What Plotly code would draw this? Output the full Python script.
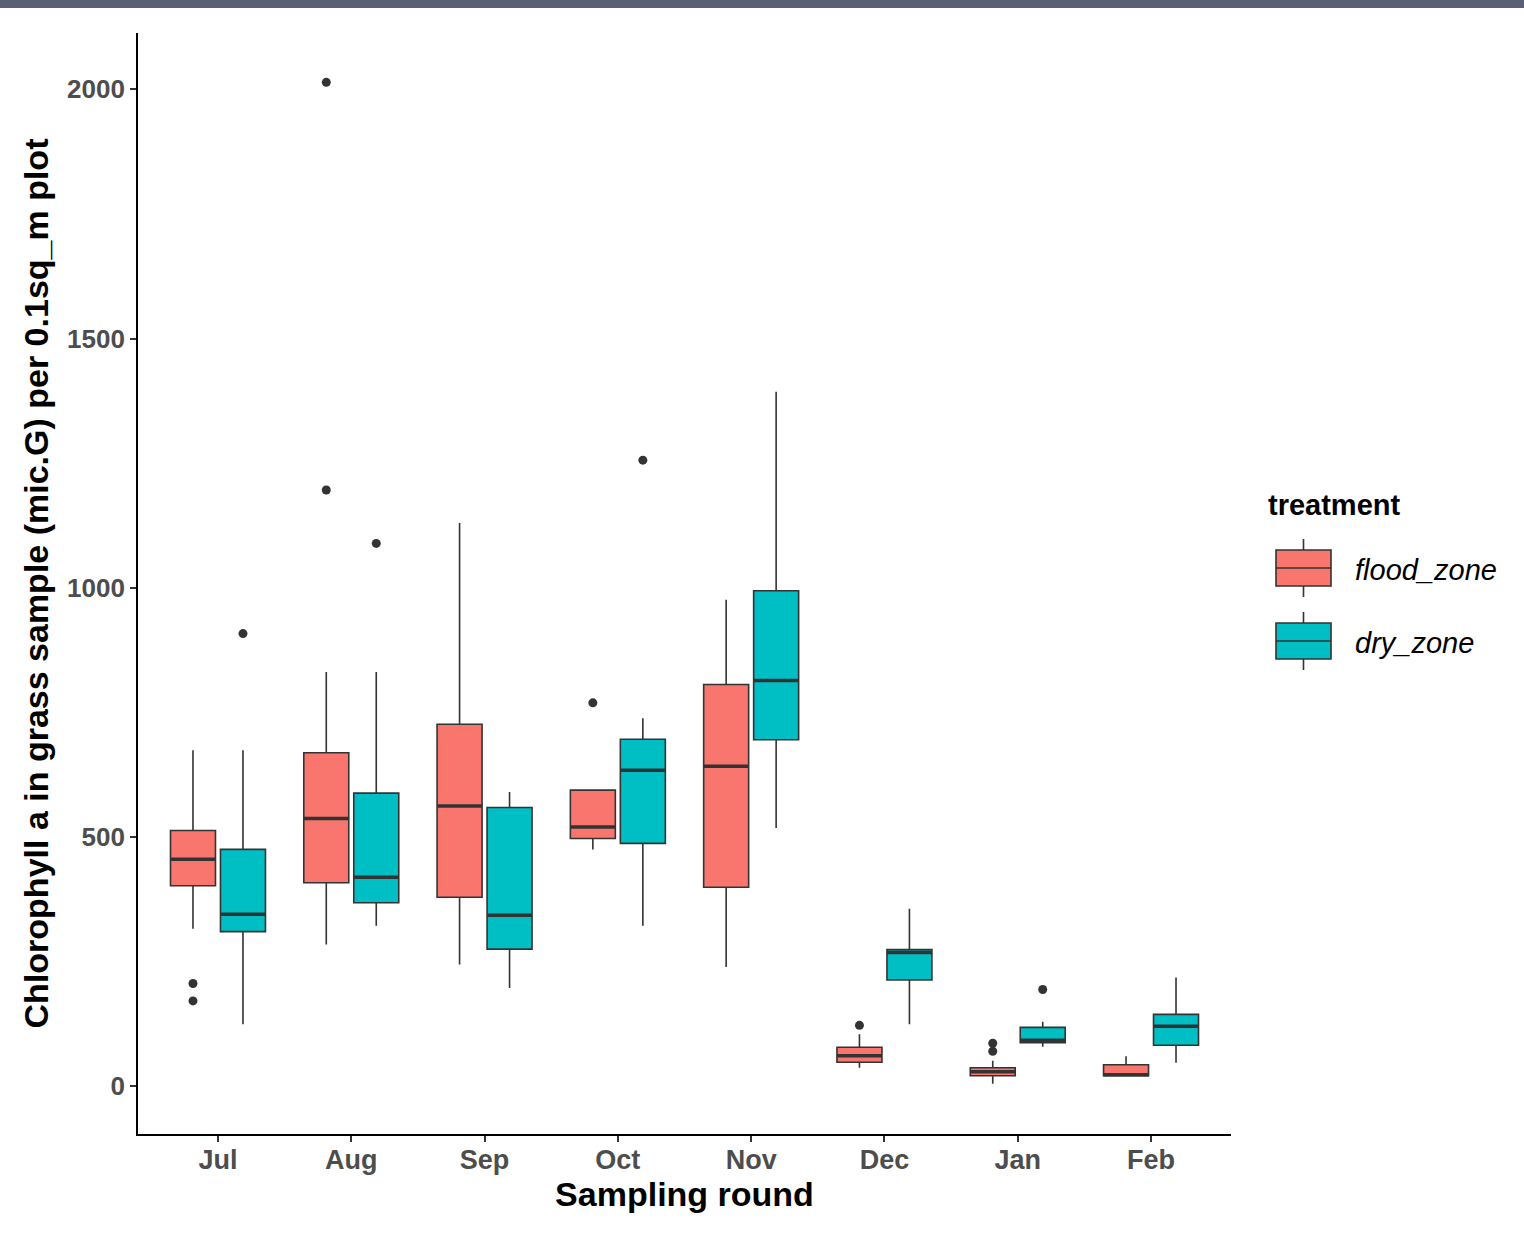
import plotly.graph_objects as go

# Chlorophyll a per sampling round
months = ["Jul", "Aug", "Sep", "Oct", "Nov", "Dec", "Jan", "Feb"]

# flood_zone box stats
flood_q1 = [402, 408, 379, 497, 399, 48, 21, 21]
flood_median = [455, 537, 562, 520, 642, 61, 29, 23]
flood_q3 = [513, 669, 726, 594, 806, 78, 37, 43]
flood_low = [316, 284, 244, 475, 239, 37, 5, 21]
flood_high = [674, 831, 1130, 594, 976, 104, 51, 60]
flood_outliers = [[206, 171], [2014, 1196], [], [769], [], [122], [86, 70], []]

# dry_zone box stats
dry_q1 = [310, 368, 275, 487, 695, 213, 87, 82]
dry_median = [345, 419, 343, 634, 814, 268, 92, 120]
dry_q3 = [475, 588, 559, 696, 994, 274, 118, 144]
dry_low = [124, 322, 197, 322, 518, 124, 79, 47]
dry_high = [674, 831, 590, 738, 1393, 356, 129, 218]
dry_outliers = [[908], [1089], [], [1256], [], [], [194], []]

FLOOD_COL = "#F8766D"
DRY_COL = "#00BFC4"
EDGE = "#333333"
FONT = "Liberation Sans, Arial, sans-serif"

DODGE = 0.1875   # half of ggplot's 0.75 dodge width
BOX_W = 0.3375   # box width after dodge2 padding

# plot area in pixels (for the hand-drawn legend + top strip)
L, R, T, B = 138, 1231, 33, 1134


def px(x):
    return (x - L) / (R - L)


def py(y):
    return (B - y) / (B - T)


fig = go.Figure()

groups = [
    ("flood_zone", FLOOD_COL, -DODGE, flood_q1, flood_median, flood_q3, flood_low, flood_high, flood_outliers),
    ("dry_zone", DRY_COL, DODGE, dry_q1, dry_median, dry_q3, dry_low, dry_high, dry_outliers),
]

for name, col, off, q1, med, q3, lo, hi, outs in groups:
    xs = [i + 1 + off for i in range(len(months))]
    fig.add_trace(go.Box(
        x=xs, q1=q1, median=med, q3=q3, lowerfence=lo, upperfence=hi,
        width=BOX_W, whiskerwidth=0, fillcolor=col,
        line=dict(color=EDGE, width=1.6), name=name, showlegend=False,
        boxpoints=False,
    ))
    # thicker median bars, like ggplot
    mx, my = [], []
    for x, m in zip(xs, med):
        mx += [x - BOX_W / 2, x + BOX_W / 2, None]
        my += [m, m, None]
    fig.add_trace(go.Scatter(x=mx, y=my, mode="lines",
                             line=dict(color=EDGE, width=3.5),
                             showlegend=False, hoverinfo="skip"))
    ox, oy = [], []
    for x, vals in zip(xs, outs):
        for v in vals:
            ox.append(x)
            oy.append(v)
    fig.add_trace(go.Scatter(x=ox, y=oy, mode="markers",
                             marker=dict(color=EDGE, size=9),
                             showlegend=False, name=name))

# dark strip across the top of the image
fig.add_shape(type="rect", xref="paper", yref="paper",
              x0=px(0), x1=px(1524), y0=py(8), y1=py(0),
              fillcolor="#5B5F75", line_width=0, layer="above")

# legend drawn by hand so the keys look like ggplot's
fig.add_annotation(xref="paper", yref="paper", x=px(1266), y=py(505),
                   text="treatment", showarrow=False, xanchor="left", yanchor="middle",
                   font=dict(family=FONT, size=29, color="black", weight="bold"))
keys = [("flood_zone", FLOOD_COL, 568), ("dry_zone", DRY_COL, 641)]
for label, col, cy in keys:
    fig.add_shape(type="line", xref="paper", yref="paper",
                  x0=px(1303.5), x1=px(1303.5), y0=py(cy - 29), y1=py(cy + 29),
                  line=dict(color=EDGE, width=1.6))
    fig.add_shape(type="rect", xref="paper", yref="paper",
                  x0=px(1276), x1=px(1331), y0=py(cy - 18), y1=py(cy + 18),
                  fillcolor=col, line=dict(color=EDGE, width=1.6))
    fig.add_shape(type="line", xref="paper", yref="paper",
                  x0=px(1276), x1=px(1331), y0=py(cy), y1=py(cy),
                  line=dict(color=EDGE, width=1.6))
    fig.add_annotation(xref="paper", yref="paper", x=px(1353), y=py(cy + 2),
                       text=label, showarrow=False, xanchor="left", yanchor="middle",
                       font=dict(family=FONT, size=29, color="black", style="italic"))

fig.update_layout(
    width=1524, height=1235,
    margin=dict(l=L, r=1524 - R, t=T, b=1235 - B),
    paper_bgcolor="white", plot_bgcolor="white",
    showlegend=False, boxmode="overlay",
    font=dict(family=FONT),
)
fig.update_xaxes(
    range=[0.4, 8.6], tickvals=list(range(1, len(months) + 1)), ticktext=months,
    showgrid=False, zeroline=False, showline=True, linecolor="black", linewidth=1.8,
    ticks="outside", ticklen=6, tickwidth=1.6, tickcolor=EDGE,
    ticklabelstandoff=-5,
    tickfont=dict(family=FONT, size=27, color="#4D4D4D", weight="bold"),
    title=dict(text="Sampling round", standoff=0,
               font=dict(family=FONT, size=34, color="black", weight="bold")),
)
fig.update_yaxes(
    range=[-96, 2113], tickvals=[0, 500, 1000, 1500, 2000],
    showgrid=False, zeroline=False, showline=True, linecolor="black", linewidth=1.8,
    ticks="outside", ticklen=6, tickwidth=1.6, tickcolor=EDGE,
    tickfont=dict(family=FONT, size=26, color="#4D4D4D", weight="bold"),
    title=dict(text="Chlorophyll a in grass sample (mic.G) per 0.1sq_m plot", standoff=8,
               font=dict(family=FONT, size=34, color="black", weight="bold")),
)

# the page's default body margin would push the figure 8px in
fig.write_html("out.html", config={"displayModeBar": False},
               post_script="document.body.style.margin='0';")
